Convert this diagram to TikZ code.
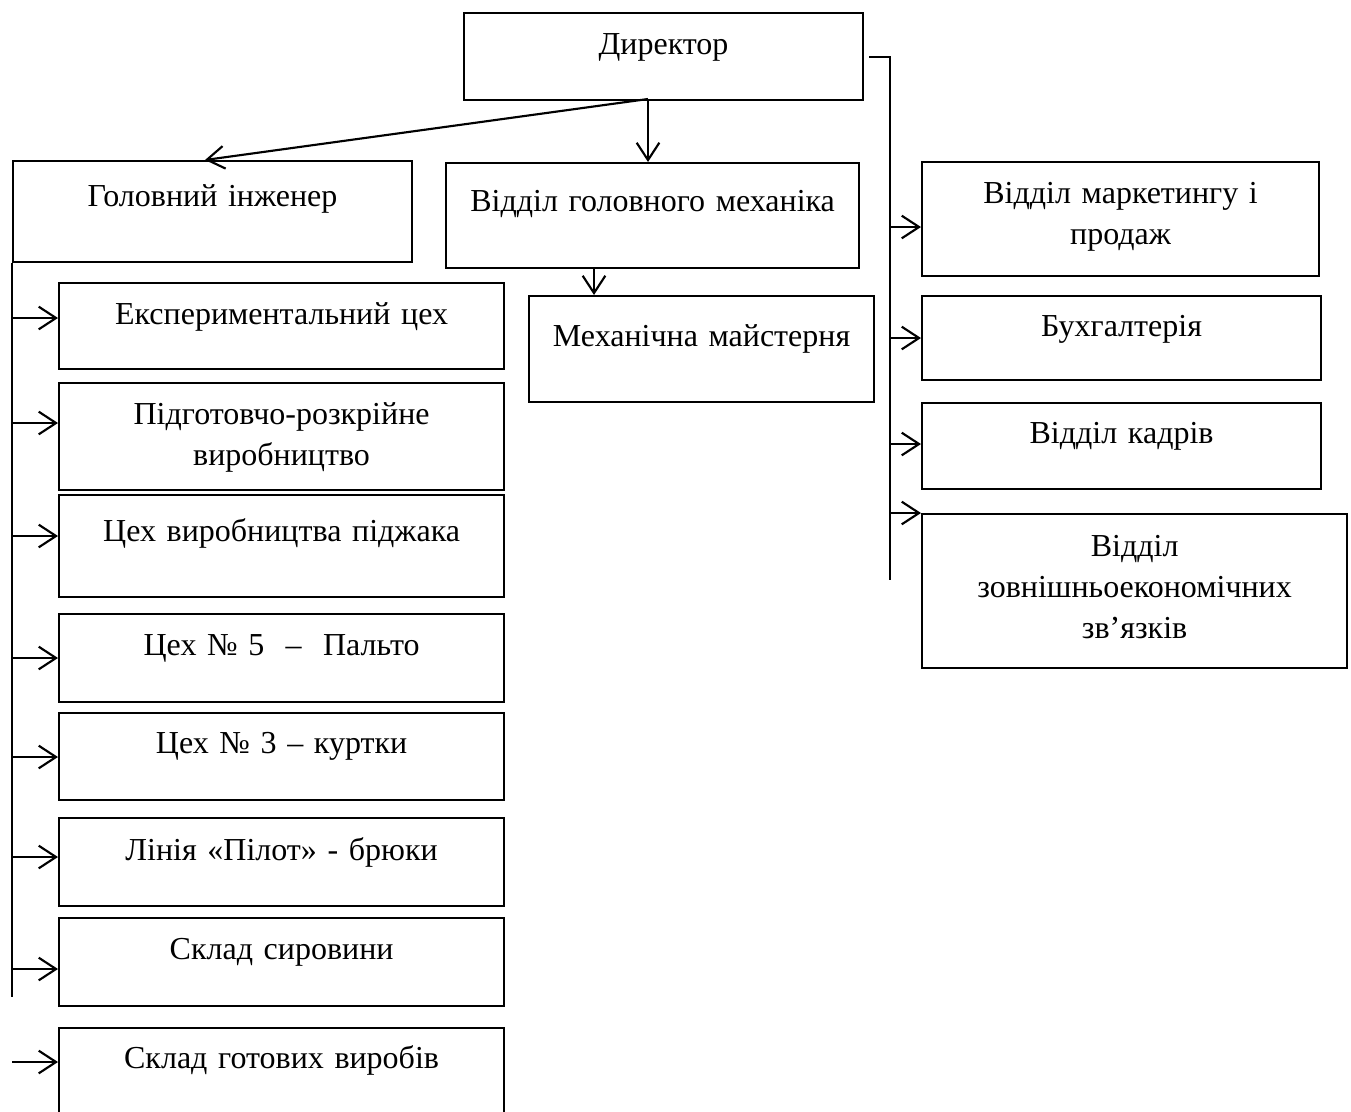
\documentclass[tikz,border=0pt]{standalone}
\usepackage{fontspec}
\setmainfont{Liberation Serif}
\usetikzlibrary{arrows.meta}

\tikzset{
  orgbox/.style={draw, anchor=north west, inner xsep=4pt, inner ysep=0pt, align=center},
  narrow/.style={text width=141.6pt},
  leftcol/.style={text width=158.9pt},
}

\begin{document}
\begin{tikzpicture}[
        x=0.375pt, y=-0.375pt, line width=0.8pt,
        >={Straight Barb[length=6.5pt,width=8.5pt]},
        font=\fontsize{12}{15.4}\selectfont
        ]
        \useasboundingbox (0,0) rectangle (1351,1111);

        % top level
        \node[orgbox, narrow, text height=15.4pt, text depth=17.3pt]          (dir)       at (463,12)  {Директор};
        \node[orgbox, narrow, text height=16.9pt, text depth=21pt]            (chief)     at (12,160)  {Головний інженер};
        \node[orgbox, text width=146.9pt, text height=18pt, text depth=21.4pt] (mech_dep)  at (445,162) {Відділ головного механіка};
        \node[orgbox, text width=121.4pt, text height=18.8pt, text depth=21pt] (mech_shop) at (528,295) {Механічна майстерня};

        % right column
        \node[orgbox, text width=140.9pt, text height=15.4pt, text depth=27.4pt] (r_1) at (921,161) {Відділ маркетингу і\\ продаж};
        \node[orgbox, narrow, text height=15pt, text depth=16.5pt]             (r_2) at (921,295) {Бухгалтерія};
        \node[orgbox, narrow, text height=15pt, text depth=17.3pt]             (r_3) at (921,402) {Відділ кадрів};
        \node[orgbox, text width=151.4pt, text height=15.8pt, text depth=42pt]   (r_4) at (921,513) {Відділ\\ зовнішньоекономічних\\ зв’язків};

        % left column
        \node[orgbox, leftcol, text height=15.4pt, text depth=16.9pt] (c_1) at (58,282)  {Експериментальний цех};
        \node[orgbox, leftcol, text height=15.4pt, text depth=24.8pt] (c_2) at (58,382)  {Підготовчо-розкрійне\\ виробництво};
        \node[orgbox, leftcol, text height=17.3pt, text depth=21pt]   (c_3) at (58,494)  {Цех виробництва піджака};
        \node[orgbox, leftcol, text height=15.4pt, text depth=17.6pt] (c_4) at (58,613)  {Цех №~5 \ – \ Пальто};
        \node[orgbox, leftcol, text height=15pt, text depth=17.6pt]   (c_5) at (58,712)  {Цех №~3 – куртки};
        \node[orgbox, leftcol, text height=15.8pt, text depth=17.3pt] (c_6) at (58,817)  {Лінія «Пілот» - брюки};
        \node[orgbox, leftcol, text height=15.4pt, text depth=17.6pt] (c_7) at (58,917)  {Склад сировини};
        \node[orgbox, leftcol, text height=15pt, text depth=19.9pt]   (c_8) at (58,1027) {Склад готових виробів};

        \coordinate (dir_out) at (648,99);
        \coordinate (chief_in) at (205,160);
        \coordinate (mech_in) at (594,295);
        \coordinate (bus_r)   at (890,580);
        \coordinate (bus_l)   at (12,997);

        \draw[->] (dir_out) -- (dir_out |- mech_dep.north);
        \draw[->] (dir_out) -- (chief_in);
        \draw[->] (mech_in |- mech_dep.south) -- (mech_in);

        \draw ([xshift=2pt]dir.east) -- (bus_r |- dir.east) -- (bus_r);
        \foreach \n/\d in {r_1/66, r_2/43, r_3/42, r_4/0}
          \draw[->] ([shift={(-31,\d)}]\n.north west) -- ([shift={(0,\d)}]\n.north west);

        \draw (chief.south west) -- (bus_l);
        \foreach \n/\d in {c_1/36, c_2/41, c_3/42, c_4/45, c_5/45, c_6/40, c_7/52, c_8/35}
          \draw[->] ([shift={(-46,\d)}]\n.north west) -- ([shift={(0,\d)}]\n.north west);
      \end{tikzpicture}
\end{document}
